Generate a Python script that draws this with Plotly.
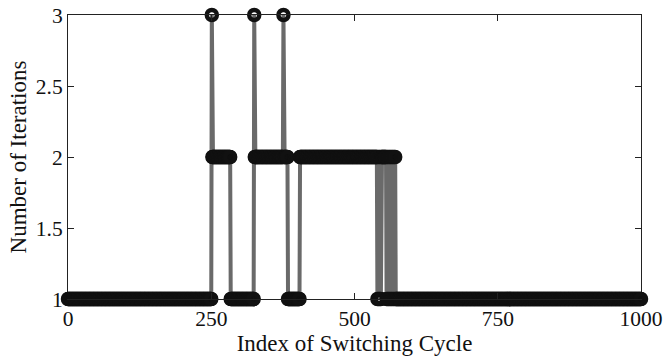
import plotly.graph_objects as go

# Iteration count per switching cycle, stored as runs:
# run_starts[i] is the first cycle index of a run holding run_values[i].
run_starts = [0, 251, 252, 284, 325, 326, 376, 377, 384, 405,
              540, 541, 542, 543, 544, 545, 546, 547,
              556, 557, 558, 559, 560, 561, 562, 563, 564, 565,
              566, 567, 568, 569, 570, 571, 572]
run_values = [1, 3, 2, 1, 3, 2, 3, 2, 1, 2,
              1, 2, 1, 2, 1, 2, 1, 2,
              1, 2, 1, 2, 1, 2, 1, 2, 1, 2,
              1, 2, 1, 2, 1, 2, 1]
last_cycle = 1000

x_ticks = [0, 250, 500, 750, 1000]
y_ticks = [1, 1.5, 2, 2.5, 3]
y_tick_text = ["1", "1.5", "2", "2.5", "3"]

# expand the runs into one value per cycle
cycles, iterations = [], []
bounds = run_starts[1:] + [last_cycle + 1]
for start, stop, val in zip(run_starts, bounds, run_values):
    for k in range(start, stop):
        cycles.append(k)
        iterations.append(val)

family = "Liberation Serif, Times New Roman, serif"
tick_font = dict(family=family, size=21.5, color="#111111")
title_font = dict(family=family, size=23, color="#111111")

fig = go.Figure()
fig.add_trace(go.Scatter(
    x=cycles, y=iterations,
    mode="lines+markers",
    line=dict(color="#6a6a6a", width=4),
    marker=dict(symbol="circle-open", size=10, color="#111111",
                line=dict(width=4.5, color="#111111")),
    cliponaxis=False,
    showlegend=False,
))

axis_common = dict(
    showline=True, linecolor="#222222", linewidth=1, mirror="ticks",
    ticks="inside", ticklen=6, tickwidth=1, tickcolor="#222222",
    showgrid=False, zeroline=False, tickfont=tick_font, automargin=False,
    ticklabeloverflow="allow",
)

fig.update_layout(
    width=665, height=356,
    margin=dict(l=68, r=24, t=15, b=57),
    plot_bgcolor="white", paper_bgcolor="white",
    font=tick_font,
    xaxis=dict(range=[0, 1000], tickvals=x_ticks,
               title=dict(text="Index of Switching Cycle", font=title_font, standoff=2),
               **axis_common),
    yaxis=dict(range=[1, 3], tickvals=y_ticks, ticktext=y_tick_text,
               title=dict(text="Number of Iterations", font=title_font, standoff=2),
               layer="below traces",
               **axis_common),
)

fig.write_html("out.html")
